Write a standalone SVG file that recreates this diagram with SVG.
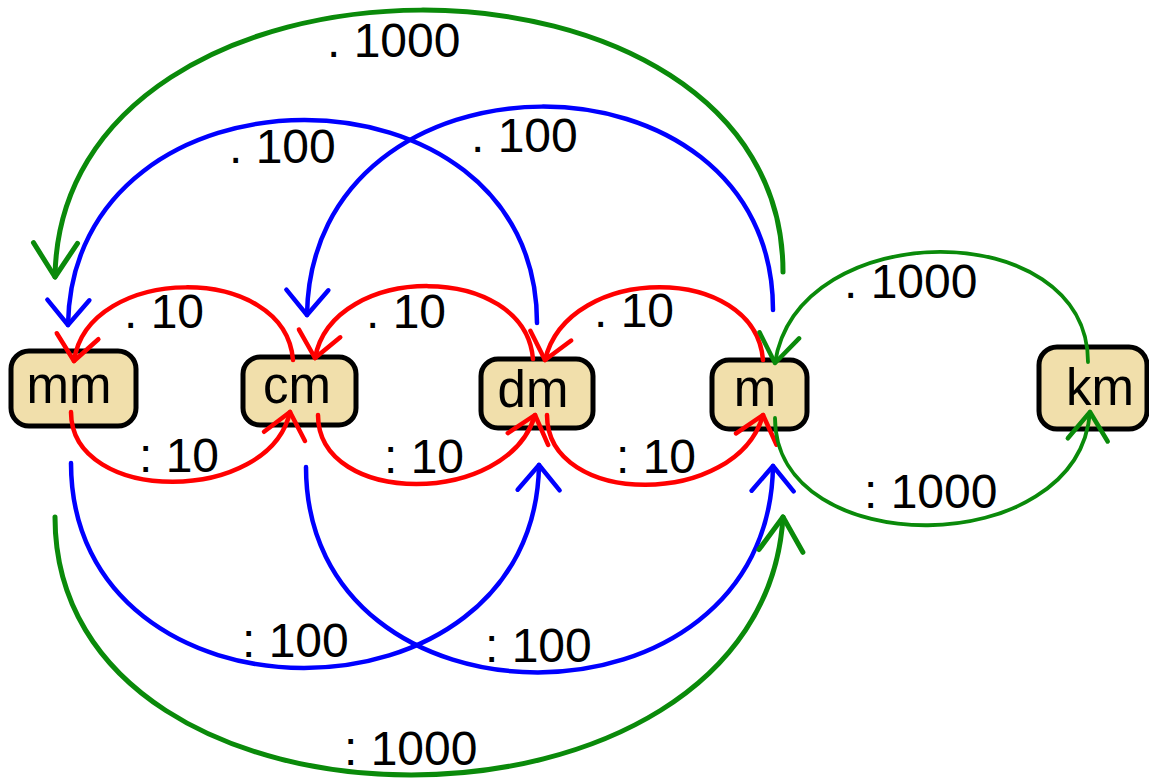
<svg xmlns="http://www.w3.org/2000/svg" width="1149" height="778" viewBox="0 0 1149 778">
<style>
.node rect{fill:#f1dfab;stroke:#000;stroke-width:5}
.node text{font-family:"Liberation Sans",Arial,sans-serif;font-size:51px;fill:#000;text-anchor:middle}
.lbl{font-family:"Liberation Sans",Arial,sans-serif;font-size:48px;fill:#000}
.c{fill:none;stroke-linecap:round}
.r{stroke:#ff0000;stroke-width:4.5;marker-end:url(#ar)}
.b{stroke:#0000ff;stroke-width:4.5;marker-end:url(#ab)}
.g{stroke:#0a8a0a;stroke-width:5;marker-end:url(#ag)}
.g2{stroke:#0a8a0a;stroke-width:3.8;marker-end:url(#ag2)}
</style>
<defs>
<marker id="ar" markerUnits="userSpaceOnUse" orient="auto" overflow="visible" markerWidth="1" markerHeight="1" refX="0" refY="0">
<path d="M-25,-21 L0,0 L-25,21" fill="none" stroke="#ff0000" stroke-width="4.5" stroke-linecap="round" stroke-linejoin="round"/>
</marker>
<marker id="ab" markerUnits="userSpaceOnUse" orient="auto" overflow="visible" markerWidth="1" markerHeight="1" refX="0" refY="0">
<path d="M-25,-21 L0,0 L-25,21" fill="none" stroke="#0000ff" stroke-width="4.5" stroke-linecap="round" stroke-linejoin="round"/>
</marker>
<marker id="ag" markerUnits="userSpaceOnUse" orient="auto" overflow="visible" markerWidth="1" markerHeight="1" refX="0" refY="0">
<path d="M-34,-22 L0,0 L-34,22" fill="none" stroke="#0a8a0a" stroke-width="5" stroke-linecap="round" stroke-linejoin="round"/>
</marker>
<marker id="ag2" markerUnits="userSpaceOnUse" orient="auto" overflow="visible" markerWidth="1" markerHeight="1" refX="0" refY="0">
<path d="M-28,-20 L0,0 L-28,20" fill="none" stroke="#0a8a0a" stroke-width="4.5" stroke-linecap="round" stroke-linejoin="round"/>
</marker>
</defs>
<rect width="1149" height="778" fill="#fff"/>
<g id="node-mm" class="node"><rect x="11" y="351" width="125" height="75" rx="18"/><text x="69" y="403">mm</text></g>
<g id="node-cm" class="node"><rect x="243" y="357" width="113" height="68" rx="17"/><text x="297" y="403">cm</text></g>
<g id="node-dm" class="node"><rect x="481" y="359" width="112" height="69" rx="17"/><text x="533" y="407">dm</text></g>
<g id="node-m" class="node"><rect x="712" y="360" width="95" height="69" rx="17"/><text x="755" y="406">m</text></g>
<g id="node-km" class="node"><rect x="1039" y="347" width="108" height="82" rx="18"/><text x="1100" y="405">km</text></g>
<g id="connectors">
<path class="c r" d="M293,360 C285,262 88,264 74,361"/>
<path class="c r" d="M533,359 C525,262 333,262 315,358"/>
<path class="c r" d="M763,360 C755,263 568,263 545,360"/>
<path class="c r" d="M71,412 C71,505 269,505 290,412"/>
<path class="c r" d="M318,415 C318,507 508,507 535,415"/>
<path class="c r" d="M547,415 C547,508 737,508 763,415"/>
<path class="c b" d="M537,323 C537,52 72,52 68,325"/>
<path class="c b" d="M773,310 C773,38 311,38 307,315"/>
<path class="c b" d="M71,463 C71,736 535,736 539,465"/>
<path class="c b" d="M306,467 C306,741 769,741 773,466"/>
<path class="c g" d="M783,272 C783,-78 60,-78 55,277"/>
<path class="c g" d="M55,517 C55,861 762,861 783,517"/>
<path class="c g2" d="M1088,362 C1088,215 798,215 775,363"/>
<path class="c g2" d="M775,418 C775,562 1078,562 1090,412"/>
</g>
<g id="labels">
<text class="lbl" x="327" y="57">. 1000</text>
<text class="lbl" x="229" y="163">. 100</text>
<text class="lbl" x="471" y="152">. 100</text>
<text class="lbl" x="124" y="328">. 10</text>
<text class="lbl" x="366" y="328">. 10</text>
<text class="lbl" x="594" y="327">. 10</text>
<text class="lbl" x="844" y="298">. 1000</text>
<text class="lbl" x="139" y="472">: 10</text>
<text class="lbl" x="384" y="473">: 10</text>
<text class="lbl" x="616" y="473">: 10</text>
<text class="lbl" x="242" y="657">: 100</text>
<text class="lbl" x="485" y="662">: 100</text>
<text class="lbl" x="344" y="765">: 1000</text>
<text class="lbl" x="864" y="508">: 1000</text>
</g>
</svg>
